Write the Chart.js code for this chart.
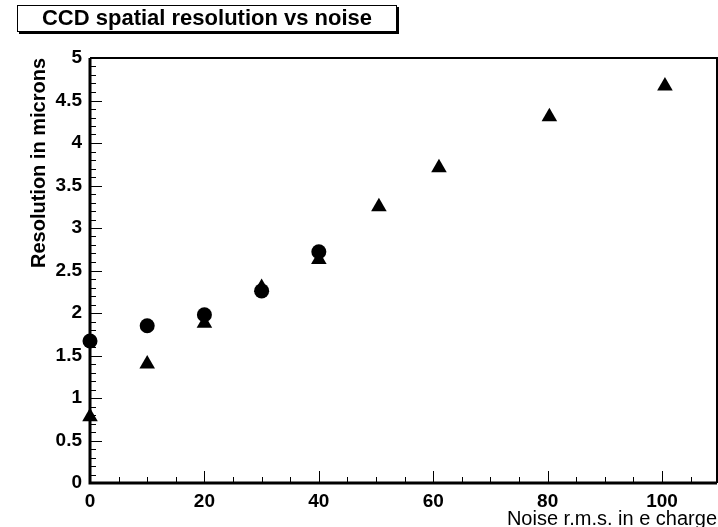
<!DOCTYPE html>
<html>
<head>
<meta charset="utf-8">
<title>CCD spatial resolution vs noise</title>
<script src="https://cdn.jsdelivr.net/npm/chart.js@4.4.1/dist/chart.umd.min.js"></script>
<style>
  html, body { margin: 0; padding: 0; background: #fff; }
  canvas { display: block; }
</style>
</head>
<body>
<canvas id="myChart" width="718" height="527"></canvas>
<script>
const chartTitle = 'CCD spatial resolution vs noise';
const xTitle = 'Noise r.m.s. in e charge';
const yTitle = 'Resolution in microns';

// circle markers
const noiseCircle = [0, 10, 20, 30, 40];
const resCircle = [1.67, 1.85, 1.98, 2.26, 2.72];

// triangle markers
const noiseTri = [0, 10, 20, 30, 40, 50.5, 61, 80.3, 100.5];
const resTri = [0.78, 1.40, 1.88, 2.30, 2.63, 3.25, 3.71, 4.31, 4.67];

// axis ranges and tick steps
const xRange = [0, 109.6];
const xMajor = 20, xMinorStep = 5;
const yRange = [0, 5];
const yMajor = 0.5, yMinorStep = 0.1;

function toPoints(xs, ys) {
    let pts = []
    for (let i = 0; i < xs.length; i++) {
        pts.push({ x: xs[i], y: ys[i] })
    }
    return pts
}

// ROOT style title box with a drop shadow
const titleBox = {
    id: 'titleBox',
    afterLayout(chart) {
        chart.titleBlock.left = 17;
        chart.titleBlock.right = 397;
    },
    beforeDraw(chart) {
        const ctx = chart.ctx;
        ctx.save();
        ctx.fillStyle = '#000';
        ctx.fillRect(19, 7, 380, 27);
        ctx.fillStyle = '#fff';
        ctx.fillRect(17, 5, 380, 27);
        ctx.strokeStyle = '#000';
        ctx.lineWidth = 1;
        ctx.strokeRect(17.5, 5.5, 379, 26);
        ctx.restore();
    }
};

// frame plus inward major/minor ticks
const frameTicks = {
    id: 'frameTicks',
    beforeDatasetsDraw(chart) {
        const ctx = chart.ctx;
        const a = chart.chartArea;
        const xs = chart.scales.x;
        const ys = chart.scales.y;
        ctx.save();
        ctx.strokeStyle = '#000';

        ctx.lineWidth = 1;
        for (let v = xRange[0]; v <= xRange[1] + 1e-9; v += xMinorStep) {
            const px = Math.round(xs.getPixelForValue(v)) + 0.5;
            const major = Math.abs(v / xMajor - Math.round(v / xMajor)) < 1e-6;
            const len = major ? 12 : 6;
            ctx.beginPath();
            ctx.moveTo(px, a.bottom);
            ctx.lineTo(px, a.bottom - len);
            ctx.stroke();
        }
        for (let i = 0; i <= Math.round((yRange[1] - yRange[0]) / yMinorStep); i++) {
            const v = yRange[0] + i * yMinorStep;
            const py = Math.round(ys.getPixelForValue(v)) + 0.5;
            const major = i % Math.round(yMajor / yMinorStep) === 0;
            const len = major ? 12 : 6;
            ctx.beginPath();
            ctx.moveTo(a.left, py);
            ctx.lineTo(a.left + len, py);
            ctx.stroke();
        }

        // top and right of frame
        ctx.lineWidth = 2;
        ctx.beginPath();
        ctx.moveTo(a.left, a.top);
        ctx.lineTo(a.right, a.top);
        ctx.lineTo(a.right, a.bottom);
        ctx.stroke();

        // axis lines
        ctx.lineWidth = 3;
        ctx.beginPath();
        ctx.moveTo(a.left, a.top);
        ctx.lineTo(a.left, a.bottom);
        ctx.lineTo(a.right, a.bottom);
        ctx.stroke();
        ctx.restore();
    }
};

Chart.defaults.font.family = '"Liberation Sans", Arial, Helvetica, sans-serif';
Chart.defaults.color = '#000';

const ctx = document.getElementById('myChart');

new Chart(ctx, {
    type: 'scatter',
    data: {
        datasets: [{
            label: 'triangles',
            data: toPoints(noiseTri, resTri),
            pointStyle: 'triangle',
            pointRadius: 9,
            pointHoverRadius: 9,
            backgroundColor: '#000',
            borderColor: '#000',
            borderWidth: 0,
            clip: false,
        }, {
            label: 'circles',
            data: toPoints(noiseCircle, resCircle),
            pointStyle: 'circle',
            pointRadius: 7.5,
            pointHoverRadius: 7.5,
            backgroundColor: '#000',
            borderColor: '#000',
            borderWidth: 0,
            clip: false,
        }]
    },
    options: {
        responsive: false,
        animation: false,
        devicePixelRatio: 1,
        events: [],
        layout: {
            autoPadding: false,
            padding: { left: 0, right: 1, top: 0, bottom: 0 }
        },
        plugins: {
            legend: { display: false },
            tooltip: { enabled: false },
            title: {
                display: true,
                text: chartTitle,
                color: '#000',
                font: { size: 22, weight: 'bold', lineHeight: 1.2 },
                padding: { top: 5.3, bottom: 26.3 }
            }
        },
        scales: {
            x: {
                type: 'linear',
                min: xRange[0],
                max: xRange[1],
                border: { display: false },
                grid: { display: false, drawTicks: false },
                ticks: {
                    stepSize: xMajor,
                    includeBounds: false,
                    padding: 7,
                    maxRotation: 0,
                    color: '#000',
                    font: { size: 19, weight: 'bold', lineHeight: 1.2 },
                    callback: (v) => String(v)
                },
                title: {
                    display: true,
                    text: xTitle,
                    align: 'end',
                    color: '#000',
                    font: { size: 20, lineHeight: 1 },
                    padding: { top: 0, bottom: -2 }
                },
                afterFit(scale) {
                    scale.height = 44;
                    scale.paddingLeft = 0;
                    scale.paddingRight = 0;
                }
            },
            y: {
                type: 'linear',
                min: yRange[0],
                max: yRange[1],
                border: { display: false },
                grid: { display: false, drawTicks: false },
                ticks: {
                    stepSize: yMajor,
                    includeBounds: false,
                    padding: 8,
                    color: '#000',
                    font: { size: 19, weight: 'bold' },
                    callback: (v) => String(v)
                },
                title: {
                    display: true,
                    text: yTitle,
                    align: 'end',
                    color: '#000',
                    font: { size: 20, weight: 'bold', lineHeight: 1.2 },
                    padding: { top: 27, bottom: 0 }
                },
                afterFit(scale) { scale.width = 90; }
            }
        }
    },
    plugins: [titleBox, frameTicks]
});
</script>
</body>
</html>
